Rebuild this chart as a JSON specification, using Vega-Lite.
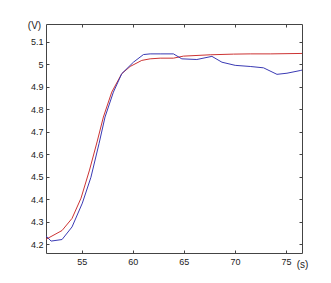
{
  "$schema": "https://vega.github.io/schema/vega-lite/v6.json",
  "width": 256,
  "height": 229,
  "autosize": {"type": "none"},
  "padding": {"left": 46, "top": 24, "right": 29, "bottom": 30},
  "background": "white",
  "config": {
    "view": {"stroke": null},
    "axis": {
      "grid": false,
      "domainColor": "#444444",
      "domainWidth": 1,
      "tickColor": "#444444",
      "tickSize": -3,
      "labelFont": "Liberation Sans",
      "labelFontSize": 9,
      "labelColor": "#222222",
      "titleFont": "Liberation Sans",
      "titleFontSize": 10,
      "titleFontWeight": "normal",
      "titleColor": "#222222"
    }
  },
  "data": {
    "values": [
      {"t": 51.5, "v": 4.222, "s": "red"},
      {"t": 53.07, "v": 4.261, "s": "red"},
      {"t": 54.05, "v": 4.315, "s": "red"},
      {"t": 54.93, "v": 4.405, "s": "red"},
      {"t": 55.76, "v": 4.53, "s": "red"},
      {"t": 56.5, "v": 4.655, "s": "red"},
      {"t": 57.12, "v": 4.766, "s": "red"},
      {"t": 57.94, "v": 4.877, "s": "red"},
      {"t": 58.92, "v": 4.959, "s": "red"},
      {"t": 59.74, "v": 4.991, "s": "red"},
      {"t": 60.88, "v": 5.018, "s": "red"},
      {"t": 61.7, "v": 5.025, "s": "red"},
      {"t": 62.68, "v": 5.028, "s": "red"},
      {"t": 63.98, "v": 5.028, "s": "red"},
      {"t": 64.96, "v": 5.037, "s": "red"},
      {"t": 67.58, "v": 5.043, "s": "red"},
      {"t": 69.86, "v": 5.046, "s": "red"},
      {"t": 71.5, "v": 5.047, "s": "red"},
      {"t": 73.46, "v": 5.047, "s": "red"},
      {"t": 76.57, "v": 5.049, "s": "red"},
      {"t": 51.5, "v": 4.237, "s": "blue"},
      {"t": 52.0, "v": 4.214, "s": "blue"},
      {"t": 53.07, "v": 4.221, "s": "blue"},
      {"t": 54.05, "v": 4.277, "s": "blue"},
      {"t": 55.06, "v": 4.383, "s": "blue"},
      {"t": 55.9, "v": 4.498, "s": "blue"},
      {"t": 56.7, "v": 4.649, "s": "blue"},
      {"t": 57.28, "v": 4.766, "s": "blue"},
      {"t": 58.1, "v": 4.877, "s": "blue"},
      {"t": 58.92, "v": 4.959, "s": "blue"},
      {"t": 60.06, "v": 5.01, "s": "blue"},
      {"t": 61.04, "v": 5.044, "s": "blue"},
      {"t": 61.7, "v": 5.047, "s": "blue"},
      {"t": 62.68, "v": 5.047, "s": "blue"},
      {"t": 63.98, "v": 5.047, "s": "blue"},
      {"t": 64.8, "v": 5.025, "s": "blue"},
      {"t": 66.27, "v": 5.022, "s": "blue"},
      {"t": 67.75, "v": 5.036, "s": "blue"},
      {"t": 68.73, "v": 5.01, "s": "blue"},
      {"t": 70.03, "v": 4.996, "s": "blue"},
      {"t": 71.5, "v": 4.991, "s": "blue"},
      {"t": 72.8, "v": 4.985, "s": "blue"},
      {"t": 74.12, "v": 4.956, "s": "blue"},
      {"t": 75.1, "v": 4.961, "s": "blue"},
      {"t": 76.4, "v": 4.973, "s": "blue"},
      {"t": 76.57, "v": 4.975, "s": "blue"}
    ]
  },
  "layer": [
    {
      "transform": [{"filter": "datum.s === 'red'"}],
      "mark": {"type": "line", "color": "#cc3333", "strokeWidth": 1, "clip": true},
      "encoding": {
        "x": {"field": "t", "type": "quantitative",
              "scale": {"domain": [51.5, 76.57], "nice": false, "zero": false},
              "axis": {"orient": "top", "values": [55, 60, 65, 70, 75], "labels": false, "title": null}},
        "y": {"field": "v", "type": "quantitative",
              "scale": {"domain": [4.161, 5.18], "nice": false, "zero": false},
              "axis": {"orient": "right", "values": [4.2, 4.3, 4.4, 4.5, 4.6, 4.7, 4.8, 4.9, 5, 5.1], "labels": false, "title": null}}
      }
    },
    {
      "transform": [{"filter": "datum.s === 'blue'"}],
      "mark": {"type": "line", "color": "#3a3ab4", "strokeWidth": 1, "clip": true},
      "encoding": {
        "x": {"field": "t", "type": "quantitative",
              "axis": {"orient": "bottom", "values": [55, 60, 65, 70, 75], "labelPadding": 7,
                       "title": "(s)", "titleAngle": 0, "titleX": 256, "titleY": 11,
                       "titleAlign": "center", "titleBaseline": "middle"}},
        "y": {"field": "v", "type": "quantitative",
              "axis": {"orient": "left", "values": [4.2, 4.3, 4.4, 4.5, 4.6, 4.7, 4.8, 4.9, 5, 5.1], "format": "~g", "labelPadding": 6,
                       "title": "(V)", "titleAngle": 0, "titleX": -12, "titleY": 1,
                       "titleAlign": "center", "titleBaseline": "middle"}}
      }
    }
  ],
  "resolve": {"axis": {"x": "independent", "y": "independent"}}
}
